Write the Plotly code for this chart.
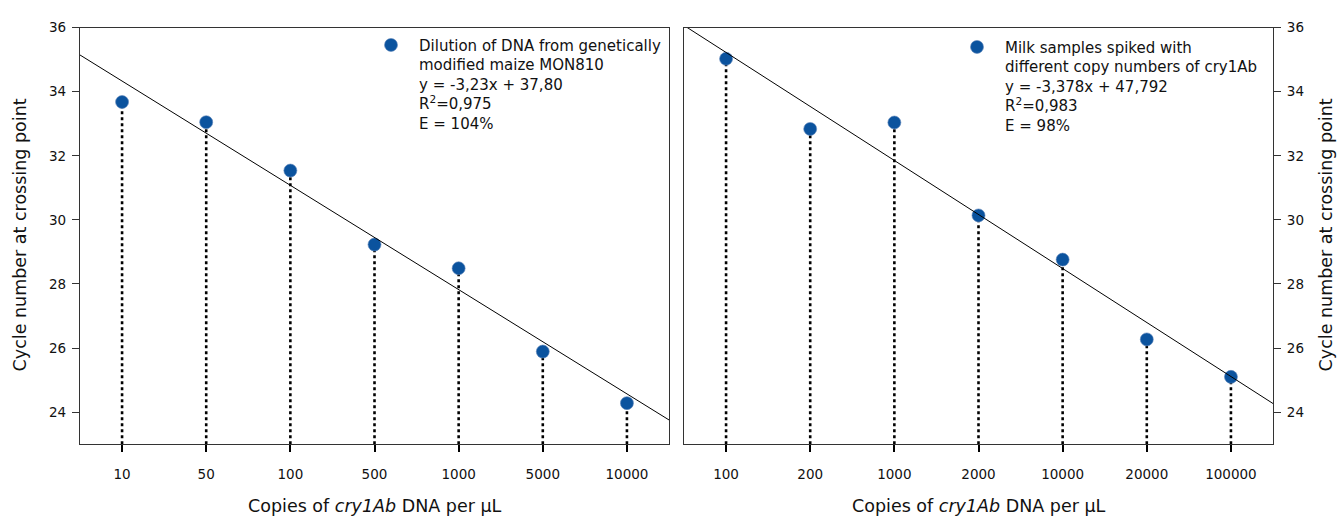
import numpy as np
import plotly.graph_objects as go

# Standard curve: DNA dilution series (maize MON810)
maize_copies = ["10", "50", "100", "500", "1000", "5000", "10000"]
maize_cp = [33.68, 33.05, 31.54, 29.23, 28.49, 25.89, 24.28]

# Spiked milk samples
milk_copies = ["100", "200", "1000", "2000", "10000", "20000", "100000"]
milk_cp = [35.03, 32.84, 33.04, 30.14, 28.76, 26.27, 25.10]

maize_label = ("Dilution of DNA from genetically<br>modified maize MON810<br>"
               "y = -3,23x + 37,80<br>R<sup>2</sup>=0,975<br>E = 104%")
milk_label = ("Milk samples spiked with<br>different copy numbers of cry1Ab<br>"
              "y = -3,378x + 47,792<br>R<sup>2</sup>=0,983<br>E = 98%")

Y_MIN, Y_MAX = 23, 36
y_ticks = [24, 26, 28, 30, 32, 34, 36]

FONT = "DejaVu Sans, Verdana, sans-serif"
BLUE = "#0b539e"
FRAME = "#333333"
TEXT = "#111111"

fig = go.Figure()


def add_panel(cats, vals, label, xa, xa_num, ya, legend):
    idx = np.arange(len(cats))
    # vertical dotted drops from each point to the x axis
    dx, dy = [], []
    for c, v in zip(cats, vals):
        dx += [c, c, None]
        dy += [Y_MIN, v, None]
    fig.add_trace(go.Scatter(x=dx, y=dy, mode="lines", xaxis=xa, yaxis=ya,
                             line=dict(color="black", width=2.6, dash="dot"),
                             showlegend=False, hoverinfo="skip"))
    # least-squares trend line across the category positions
    slope, icpt = np.polyfit(idx, vals, 1)
    ends = np.array([-0.5, len(cats) - 0.5])
    fig.add_trace(go.Scatter(x=ends, y=slope * ends + icpt, mode="lines",
                             xaxis=xa_num, yaxis=ya,
                             line=dict(color="black", width=1),
                             showlegend=False, hoverinfo="skip"))
    fig.add_trace(go.Scatter(x=cats, y=vals, mode="markers", xaxis=xa, yaxis=ya,
                             marker=dict(color=BLUE, size=13,
                                         line=dict(width=0.6, color="#5f86bb")),
                             name=label, legend=legend))


add_panel(maize_copies, maize_cp, maize_label, "x", "x3", "y", "legend")
add_panel(milk_copies, milk_cp, milk_label, "x2", "x4", "y2", "legend2")

W, H = 1340, 516
ydom = [1 - 443 / H, 1 - 20 / H]
xdom1 = [80 / W, 669 / W]
xdom2 = [684 / W, 1273 / W]

tick_font = dict(family=FONT, size=13.5, color=TEXT)
xcommon = dict(type="category", range=[-0.5, 6.5], showline=True, mirror=True,
               linecolor=FRAME, linewidth=1.2, ticks="outside", ticklen=7,
               tickcolor="black", tickwidth=1.5, showgrid=False, zeroline=False,
               ticklabelstandoff=11, tickfont=tick_font)
ycommon = dict(range=[Y_MIN, Y_MAX], tickvals=y_ticks, showline=True, mirror=True,
               linecolor=FRAME, linewidth=1.2, ticks="outside", ticklen=7,
               tickcolor=FRAME, showgrid=False, zeroline=False,
               ticklabelstandoff=3, domain=ydom, tickfont=tick_font)

legend_common = dict(xanchor="left", yanchor="top", valign="top", itemwidth=46,
                     bgcolor="rgba(0,0,0,0)",
                     font=dict(family=FONT, size=15, color=TEXT))

fig.update_layout(
    width=W, height=H,
    margin=dict(l=0, r=0, t=0, b=0),
    paper_bgcolor="white", plot_bgcolor="white",
    font=dict(family=FONT, color=TEXT),
    xaxis=dict(domain=xdom1, anchor="y", **xcommon),
    yaxis=dict(anchor="x", side="left", **ycommon),
    xaxis2=dict(domain=xdom2, anchor="y2", **xcommon),
    yaxis2=dict(anchor="x2", side="right", **ycommon),
    xaxis3=dict(domain=xdom1, anchor="y", range=[-0.5, 6.5], overlaying="x",
                visible=False),
    xaxis4=dict(domain=xdom2, anchor="y2", range=[-0.5, 6.5], overlaying="x2",
                visible=False),
    legend=dict(x=363 / W, y=1 - 21 / H, **legend_common),
    legend2=dict(x=949 / W, y=1 - 23 / H, **legend_common),
)

title_font = dict(family=FONT, size=17.5, color=TEXT)
xtitle = "Copies of <i>cry1Ab</i> DNA per µL"
ytitle = "Cycle number at crossing point"
for xc in [(80 + 669) / 2 / W, (684 + 1273) / 2 / W]:
    fig.add_annotation(text=xtitle, xref="paper", yref="paper", x=xc,
                       y=1 - 506 / H, xanchor="center", yanchor="middle",
                       showarrow=False, font=title_font)
for xc in [20 / W, 1326 / W]:
    fig.add_annotation(text=ytitle, xref="paper", yref="paper", x=xc,
                       y=1 - 231 / H, xanchor="center", yanchor="middle",
                       textangle=-90, showarrow=False, font=title_font)

fig.write_html("out.html")
